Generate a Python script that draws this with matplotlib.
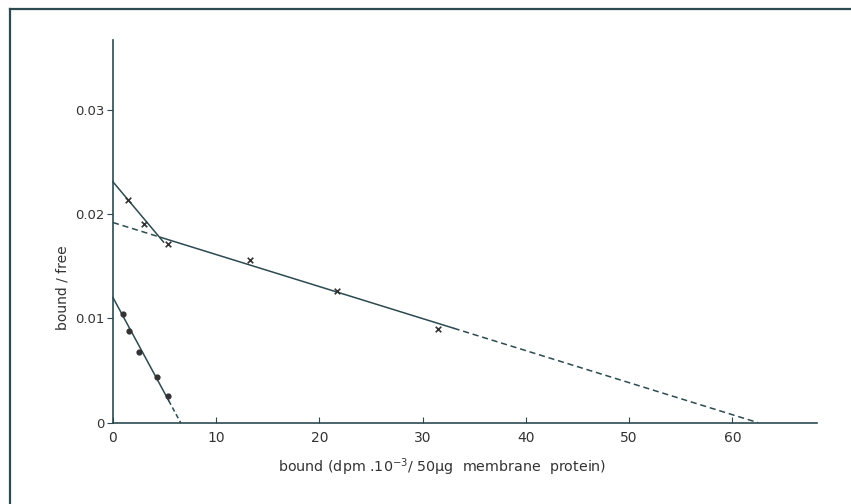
# Scatchard plot: bound/free vs bound, two binding components

import numpy as np
import matplotlib.pyplot as plt

# crosses (upper data set)
cross_x = [1.5, 3.0, 5.3, 13.3, 21.7, 31.5]
cross_y = [0.0214, 0.0191, 0.0171, 0.0156, 0.0126, 0.0090]

# dots (lower data set)
dot_x = [0.95, 1.55, 2.55, 4.3, 5.3]
dot_y = [0.0104, 0.0088, 0.0068, 0.0044, 0.0026]

# fitted lines: (intercept on y, intercept on x)
steep_y0, steep_x0 = 0.0231, 19.6
shallow_y0, shallow_x0 = 0.0192, 62.5
low_y0, low_x0 = 0.0120, 6.55

line_col = '#2c4a50'
text_col = '#333333'


def line(y0, x0, xs):
    xs = np.asarray(xs, dtype=float)
    return xs, y0 * (1 - xs / x0)


fig = plt.figure(figsize=(8.51, 5.04), dpi=100)
ax = fig.add_axes([113 / 851, 81.3 / 504, 704 / 851, 382.6 / 504])

# steep component, solid up to intersection
ax.plot(*line(steep_y0, steep_x0, [0, 4.9]), color=line_col, lw=1.1, clip_on=False)
# shallow component: dashed / solid / dashed
ax.plot(*line(shallow_y0, shallow_x0, [0, 4.6]), color=line_col, lw=1.1, ls=(0, (4, 2.5)), clip_on=False)
ax.plot(*line(shallow_y0, shallow_x0, [4.6, 33.0]), color=line_col, lw=1.1)
ax.plot(*line(shallow_y0, shallow_x0, [33.0, shallow_x0]), color=line_col, lw=1.1, ls=(0, (4, 2.5)))
# lower line
ax.plot(*line(low_y0, low_x0, [0, 5.4]), color=line_col, lw=1.1, clip_on=False)
ax.plot(*line(low_y0, low_x0, [5.4, low_x0]), color=line_col, lw=1.1, ls=(0, (3, 2)))

ax.scatter(cross_x, cross_y, marker='x', s=16, color='#333333', linewidths=1.2, zorder=3)
ax.scatter(dot_x, dot_y, marker='o', s=12, color='#333333', zorder=3)

ax.set_xlim(0, 68.2)
ax.set_ylim(0, 0.0367)
for s in ['top', 'right']:
    ax.spines[s].set_visible(False)
for s in ['left', 'bottom']:
    ax.spines[s].set_color(line_col)
    ax.spines[s].set_linewidth(1.2)

ax.set_xticks([0, 10, 20, 30, 40, 50, 60])
ax.set_xticklabels(['0', '10', '20', '30', '40', '50', '60'])
ax.set_yticks([0, 0.01, 0.02, 0.03])
ax.set_yticklabels(['0', '0.01', '0.02', '0.03'])
ax.tick_params(axis='x', direction='in', length=4, color=line_col, labelsize=10,
               labelcolor=text_col, pad=6)
ax.tick_params(axis='y', direction='out', length=4, color=line_col, labelsize=9.5,
               labelcolor=text_col, pad=2)

fig.text(442 / 851, 1 - 467 / 504, 'bound (dpm .10$^{-3}$/ 50µg  membrane  protein)',
         ha='center', va='center', fontsize=10.3, color=text_col)
fig.text(62 / 851, 1 - 288 / 504, 'bound / free', rotation=90,
         ha='center', va='center', fontsize=10, color=text_col)

# border of the original figure panel
fig.add_artist(plt.Line2D([10 / 851, 10 / 851], [0, 1 - 9 / 504], transform=fig.transFigure,
                          color=line_col, lw=1.6))
fig.add_artist(plt.Line2D([10 / 851, 1], [1 - 9 / 504, 1 - 9 / 504], transform=fig.transFigure,
                          color=line_col, lw=1.6))

fig.savefig('out.png', dpi=100)
